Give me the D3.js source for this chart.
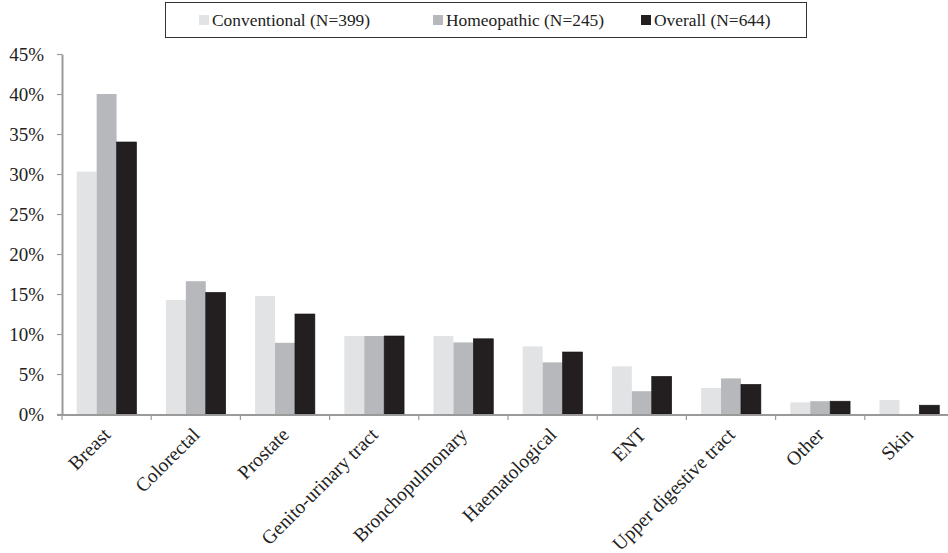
<!DOCTYPE html>
<html><head><meta charset="utf-8">
<script src="https://cdn.jsdelivr.net/npm/d3@7"></script>
<style>body{margin:0;background:#fff}svg{display:block}text{font-family:'Liberation Serif','Times New Roman',serif}</style>
</head><body><svg id="c" width="948" height="553"></svg>
<script>
const categories = ["Breast","Colorectal","Prostate","Genito-urinary tract","Bronchopulmonary","Haematological","ENT","Upper digestive tract","Other","Skin"];
const seriesNames = ["Conventional (N=399)","Homeopathic (N=245)","Overall (N=644)"];
const conventional = [30.3,14.25,14.75,9.75,9.75,8.45,5.95,3.25,1.45,1.75];
const homeopathic = [40.0,16.6,8.9,9.75,8.95,6.45,2.85,4.45,1.6,0];
const overall = [34.0,15.2,12.5,9.75,9.4,7.75,4.7,3.7,1.6,1.1];
const yTicks = [0,5,10,15,20,25,30,35,40,45];
const colors = ["#e2e3e5","#b7b8bb","#231f20"];

const svg = d3.select("#c");
const font = "'Liberation Serif','Times New Roman',serif";
const x0 = 62, x1 = 954, yTop = 54, yBot = 414;
const x = d3.scaleBand().domain(categories).range([x0,x1]).paddingInner(0.33).paddingOuter(0.165);
const xs = d3.scaleBand().domain([0,1,2]).range([0,x.bandwidth()]);
const y = d3.scaleLinear().domain([0,45]).range([yBot,yTop]);
const data = [conventional,homeopathic,overall];

// bars
categories.forEach((c,i)=>{
  data.forEach((s,j)=>{
    if(s[i] <= 0) return;
    svg.append("rect").attr("x",x(c)+xs(j)).attr("width",xs.bandwidth())
      .attr("y",y(s[i])).attr("height",y(0)-y(s[i])).attr("fill",colors[j])
      .attr("stroke", j===2 ? "#111" : "none").attr("stroke-width", j===2?0.6:0);
  });
});

// y axis
const yAxis = d3.axisLeft(y).tickValues(yTicks).tickFormat(d=>d+"%").tickSize(5).tickSizeOuter(0);
const gy = svg.append("g").attr("transform",`translate(${x0},0)`).call(yAxis);
gy.attr("font-family",null).attr("font-size",null);
gy.select(".domain").attr("stroke","#9a9a9a").attr("stroke-width",2);
gy.selectAll(".tick line").attr("stroke","#9a9a9a").attr("stroke-width",1.2);
gy.selectAll(".tick text").style("font-family",font).attr("font-size",19).attr("fill","#222").attr("x",-18).attr("dy","0.34em");

// x axis line
svg.append("line").attr("x1",x0-5).attr("x2",948).attr("y1",yBot+1).attr("y2",yBot+1).attr("stroke","#9a9a9a").attr("stroke-width",2);
// boundary ticks
const step = x.step();
d3.range(categories.length+1).forEach(k=>{
  const bx = x0 + k*step;
  svg.append("line").attr("x1",bx).attr("x2",bx).attr("y1",yBot+1).attr("y2",yBot+6).attr("stroke","#9a9a9a").attr("stroke-width",1.2);
});
// x labels
categories.forEach(c=>{
  const cx = x(c)+x.bandwidth()/2 + 5;
  svg.append("text").attr("transform",`translate(${cx},${yBot+22}) rotate(-45)`)
    .attr("text-anchor","end").style("font-family",font).attr("font-size",19.5).attr("fill","#222").text(c);
});

// legend
svg.append("rect").attr("x",165.5).attr("y",2.5).attr("width",641).attr("height",35).attr("fill","#fff").attr("stroke","#333").attr("stroke-width",1);
const legX = [199,433,641];
seriesNames.forEach((n,j)=>{
  svg.append("rect").attr("x",legX[j]).attr("y",15).attr("width",10).attr("height",10).attr("fill",colors[j]);
  svg.append("text").attr("x",legX[j]+13).attr("y",26).style("font-family",font).attr("font-size",17.4).attr("fill","#222").text(n);
});
</script></body></html>
